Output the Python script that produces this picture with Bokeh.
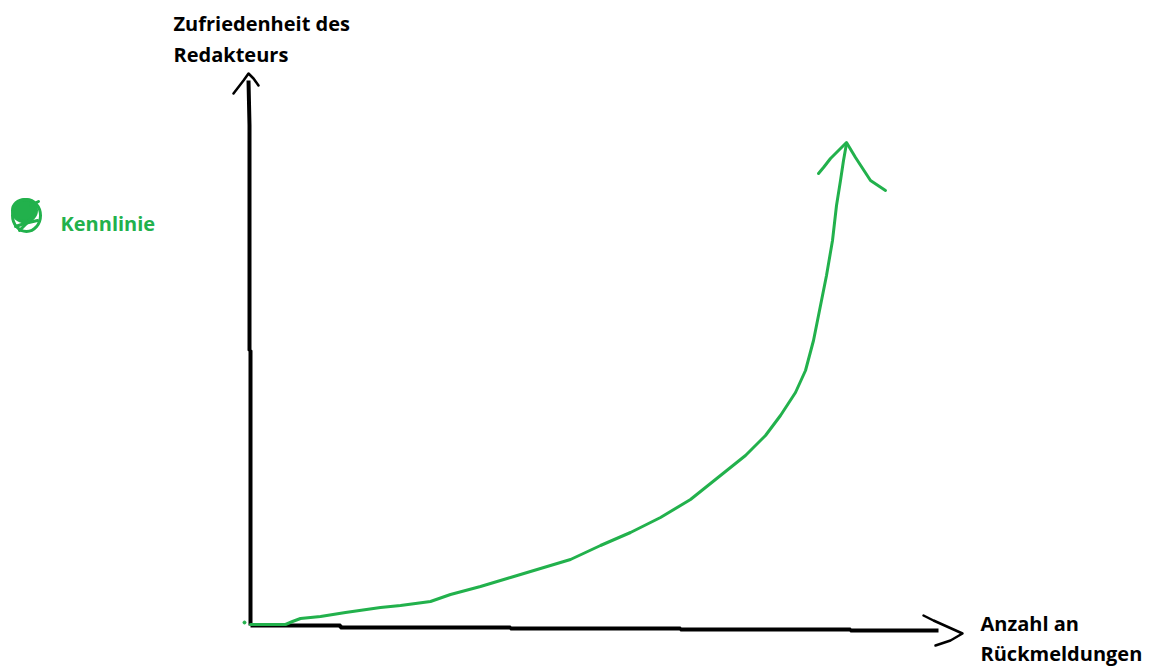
from bokeh.plotting import figure
from bokeh.embed import file_html
from bokeh.resources import INLINE
from bokeh.core.properties import value

# Data: "Kennlinie" (hand-drawn curve), x = Anzahl an Rückmeldungen, y = Zufriedenheit
kenn_x = [0, 35, 42, 50, 70, 95, 130, 150, 180, 200, 230, 260, 290, 320, 350, 380, 410,
          440, 470, 495, 515, 530, 545, 555, 563, 570, 576, 582, 586, 590, 593, 596]
kenn_y = [1, 1, 4, 7, 9, 13, 18, 20, 24, 31, 39, 48, 57, 66, 80, 93, 108,
          126, 150, 170, 190, 210, 233, 255, 285, 320, 350, 385, 420, 445, 465, 482]
# arrowhead at the end of the curve
head_x = [568, 573, 580, 596, 605, 620, 635]
head_y = [452, 458, 467, 483, 468, 445, 435]

# axes (hand-drawn)
yaxis_x = [0, 0, -1, -1, -2]
yaxis_y = [0, 275, 275, 500, 545]
xaxis_x = [0, 90, 90, 260, 260, 430, 430, 600, 600, 688]
xaxis_y = [0, 0, -2, -2, -3, -3, -4, -4, -5, -5]
yhead_x = [-17, -7, -2, 3, 8]
yhead_y = [532, 545, 552, 547, 540]
xhead_x = [673, 683, 712, 700, 685]
xhead_y = [10, 5, -8, -15, -20]

ylabel = ["Zufriedenheit des", "Redakteurs"]
xlabel = ["Anzahl an", "Rückmeldungen"]
legend_label = "Kennlinie"

GREEN = "#22b14c"
FONT = value("Open Sans")

p = figure(width=1158, height=668, x_range=(-250, 908), y_range=(-43, 625),
           output_backend="svg", toolbar_location=None, min_border=0)
p.axis.visible = False
p.grid.visible = False
p.outline_line_color = None

# axes
p.line(yaxis_x, yaxis_y, line_color="black", line_width=4)
p.line(xaxis_x, xaxis_y, line_color="black", line_width=4)
p.line(yhead_x, yhead_y, line_color="black", line_width=2.5, line_join="round", line_cap="round")
p.line(xhead_x, xhead_y, line_color="black", line_width=2.5, line_join="round", line_cap="round")

# curve
p.line(kenn_x, kenn_y, line_color=GREEN, line_width=3, line_join="round", line_cap="round")
p.line(head_x, head_y, line_color=GREEN, line_width=3, line_join="round", line_cap="round")
p.scatter([-6], [3], size=3, color=GREEN)

# legend scribble
p.ellipse([-226], [415], width=24, height=22, fill_color=GREEN, line_color=GREEN, line_width=3)
p.ellipse([-224], [410], width=28, height=32, fill_color=None, line_color=GREEN, line_width=3)
p.multi_line([[-235, -226, -213], [-231, -222, -215], [-220, -212]],
             [[399, 402, 405], [395, 404, 413], [420, 424]],
             line_color=GREEN, line_width=3, line_cap="round")
p.text([-190], [402], text=[legend_label], text_color=GREEN, text_font=FONT,
       text_font_style="bold", text_font_size="20px", text_baseline="middle")

# axis labels
p.text([-77, -77], [602, 571], text=ylabel, text_color="black", text_font=FONT,
       text_font_style="bold", text_font_size="20px", text_baseline="middle")
p.text([730, 730], [2, -28], text=xlabel, text_color="black", text_font=FONT,
       text_font_style="bold", text_font_size="20px", text_baseline="middle")

open("out.html", "w").write(file_html(p, INLINE))
